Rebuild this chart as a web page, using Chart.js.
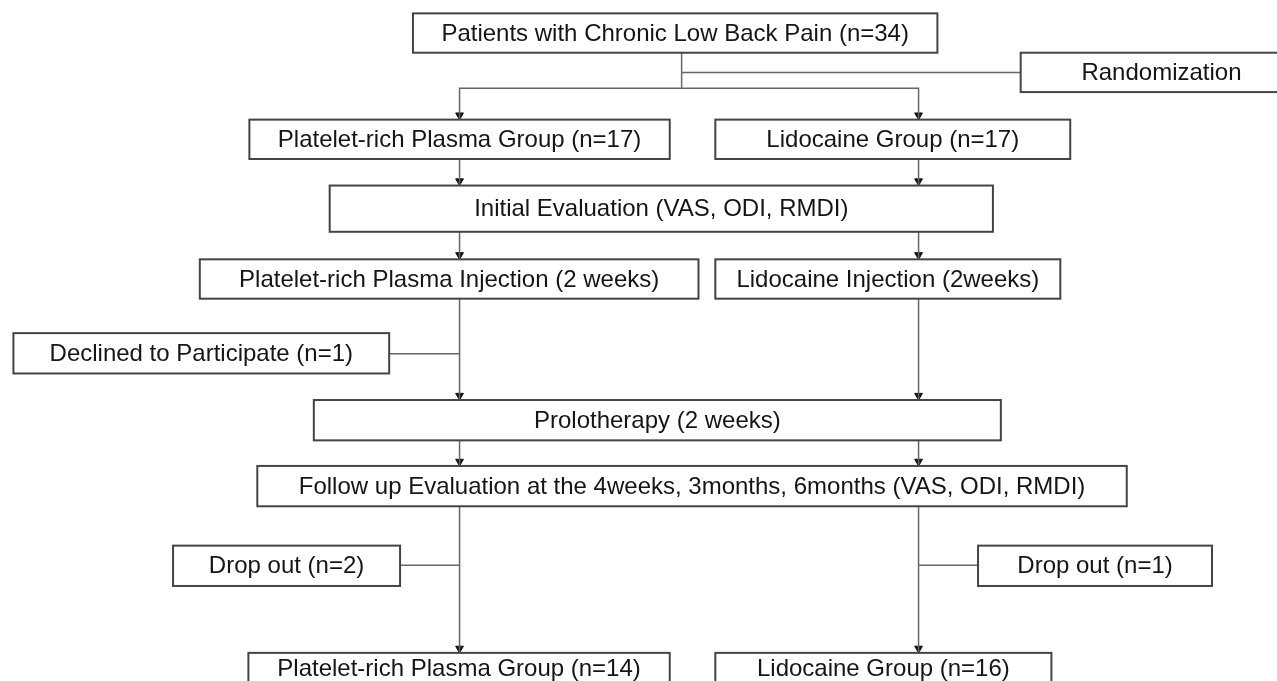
<!DOCTYPE html>
<html>
<head>
<meta charset="utf-8">
<script src="https://cdn.jsdelivr.net/npm/chart.js@4.4.1/dist/chart.umd.min.js"></script>
<style>
  html, body { margin: 0; padding: 0; background: #fff; }
  #wrap { width: 1277px; height: 681px; position: relative; }
</style>
</head>
<body>
<div id="wrap"><canvas id="flow"></canvas></div>
<script>
// counts in the flow
const nTotal = 34;
const groupNames = ['Platelet-rich Plasma', 'Lidocaine'];
const nRandomized = [17, 17];
const nDeclined = [1, 0];
const nDropout = [2, 1];
const nFinal = [14, 16];
const injectionLabels = ['Platelet-rich Plasma Injection (2 weeks)', 'Lidocaine Injection (2weeks)'];

// box texts
const boxText = [
  'Patients with Chronic Low Back Pain (n=' + nTotal + ')',
  'Randomization',
  groupNames[0] + ' Group (n=' + nRandomized[0] + ')',
  groupNames[1] + ' Group (n=' + nRandomized[1] + ')',
  'Initial Evaluation (VAS, ODI, RMDI)',
  injectionLabels[0],
  injectionLabels[1],
  'Declined to Participate (n=' + nDeclined[0] + ')',
  'Prolotherapy (2 weeks)',
  'Follow up Evaluation at the 4weeks, 3months, 6months (VAS, ODI, RMDI)',
  'Drop out (n=' + nDropout[0] + ')',
  'Drop out (n=' + nDropout[1] + ')',
  groupNames[0] + ' Group (n=' + nFinal[0] + ')',
  groupNames[1] + ' Group (n=' + nFinal[1] + ')'
];

// layout in axis units: [left, top, right, bottom]
const boxRect = [
  [411, 8, 940, 48],
  [1024, 48, 1308, 88],
  [246, 116, 670, 156],
  [716, 116, 1074, 156],
  [327, 183, 996, 230],
  [196, 258, 699, 298],
  [716, 258, 1064, 298],
  [8, 333, 387, 374],
  [311, 401, 1004, 442],
  [254, 468, 1131, 509],
  [169, 549, 398, 590],
  [981, 549, 1217, 590],
  [245, 658, 670, 705],
  [716, 658, 1055, 705]
];

const colL = 458, colR = 921, colTop = 682;
const ARROW = 4.5;

// connector polylines
const links = [
  [[colTop, 48], [colTop, 84]],
  [[colTop, 68], [1024, 68]],
  [[colL, 116], [colL, 84], [colR, 84], [colR, 116]],
  [[colL, 156], [colL, 183]],
  [[colR, 156], [colR, 183]],
  [[colL, 230], [colL, 258]],
  [[colR, 230], [colR, 258]],
  [[colL, 298], [colL, 401]],
  [[387, 354], [colL, 354]],
  [[colR, 298], [colR, 401]],
  [[colL, 442], [colL, 468]],
  [[colR, 442], [colR, 468]],
  [[colL, 509], [colL, 658]],
  [[398, 569], [colL, 569]],
  [[colR, 509], [colR, 658]],
  [[colR, 569], [981, 569]]
];

// arrow tips (x, box top)
const arrowTips = [
  [colL, 116], [colR, 116], [colL, 183], [colR, 183], [colL, 258], [colR, 258],
  [colL, 401], [colR, 401], [colL, 468], [colR, 468], [colL, 658], [colR, 658]
];

const datasets = links.map(pts => ({
  type: 'scatter',
  data: pts.map(p => ({ x: p[0], y: p[1] })),
  showLine: true,
  borderColor: '#666',
  borderWidth: 1.5,
  pointRadius: 0,
  fill: false
}));

datasets.push({
  type: 'scatter',
  data: arrowTips.map(p => ({ x: p[0], y: p[1] - ARROW })),
  pointStyle: 'triangle',
  rotation: 180,
  pointRadius: ARROW,
  backgroundColor: '#111',
  borderColor: '#111',
  borderWidth: 1
});

const boxPlugin = {
  id: 'boxes',
  afterDatasetsDraw(chart) {
    const ctx = chart.ctx;
    const xs = chart.scales.x, ys = chart.scales.y;
    ctx.save();
    ctx.font = '24px "Liberation Sans", Arial, sans-serif';
    ctx.textAlign = 'center';
    ctx.textBaseline = 'middle';
    boxRect.forEach((r, i) => {
      const x1 = xs.getPixelForValue(r[0]), y1 = ys.getPixelForValue(r[1]);
      const x2 = xs.getPixelForValue(r[2]), y2 = ys.getPixelForValue(r[3]);
      ctx.fillStyle = '#fff';
      ctx.fillRect(x1, y1, x2 - x1, y2 - y1);
      ctx.strokeStyle = '#444';
      ctx.lineWidth = 2;
      ctx.strokeRect(x1, y1, x2 - x1, y2 - y1);
      ctx.fillStyle = '#151515';
      let cx = (x1 + x2) / 2;
      if (i === 1) cx = xs.getPixelForValue(1166);
      const cy = i >= 12 ? y1 + 17 : (y1 + y2) / 2 + 1;
      ctx.fillText(boxText[i], cx, cy);
    });
    ctx.restore();
  }
};

new Chart(document.getElementById('flow'), {
  type: 'scatter',
  data: { datasets: datasets },
  options: {
    responsive: true,
    maintainAspectRatio: false,
    animation: false,
    layout: { padding: 0 },
    plugins: { legend: { display: false }, tooltip: { enabled: false } },
    scales: {
      x: { type: 'linear', min: 0, max: 1277, display: false },
      y: { type: 'linear', min: 0, max: 681, reverse: true, display: false }
    }
  },
  plugins: [boxPlugin]
});
</script>
</body>
</html>
